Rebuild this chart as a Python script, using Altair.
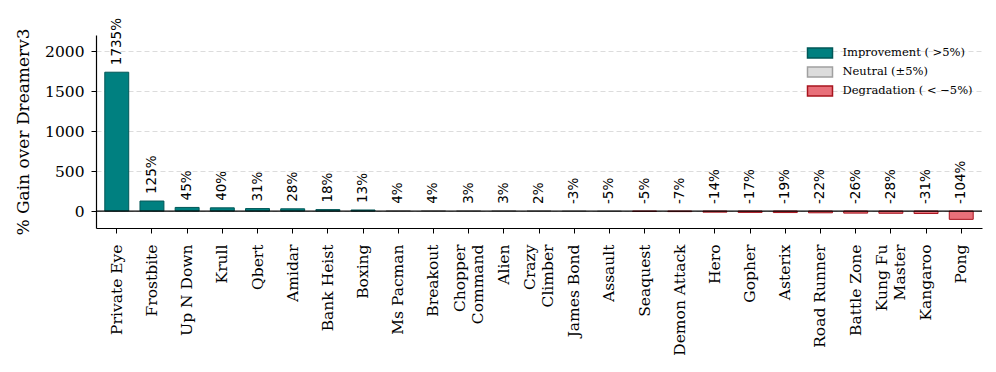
import altair as alt
import pandas as pd

games = ["Private Eye", "Frostbite", "Up N Down", "Krull", "Qbert", "Amidar",
         "Bank Heist", "Boxing", "Ms Pacman", "Breakout", "Chopper\nCommand",
         "Alien", "Crazy\nClimber", "James Bond", "Assault", "Seaquest",
         "Demon Attack", "Hero", "Gopher", "Asterix", "Road Runner",
         "Battle Zone", "Kung Fu\nMaster", "Kangaroo", "Pong"]
gains = [1735, 125, 45, 40, 31, 28, 18, 13, 4, 4, 3, 3, 2, -3, -4.8, -5.3,
         -7, -14, -17, -19, -22, -26, -28, -31, -104]

cat_labels = ["Improvement ( >5%)", "Neutral (±5%)", "Degradation ( < −5%)"]
fills = ["#008080", "#dcdcdc", "#e8707a"]
strokes = ["#005757", "#a0a0a0", "#a8141e"]


def category(v):
    if v > 5:
        return cat_labels[0]
    if v < -5:
        return cat_labels[2]
    return cat_labels[1]


df = pd.DataFrame({
    "game": games,
    "gain": gains,
    "cat": [category(v) for v in gains],
    "label": [f"{round(v):d}%" for v in gains],
    "ly": [max(v, 0) for v in gains],
})

serif = "DejaVu Serif"
sans = "DejaVu Sans"

x = alt.X("game:N", sort=games, title=None,
          scale=alt.Scale(paddingInner=0.32, paddingOuter=0.25),
          axis=alt.Axis(labelAngle=-90, labelFont=serif, labelFontSize=15.5,
                        labelColor="black", labelLineHeight=18,
                        labelExpr="split(datum.label, '\\n')",
                        labelOffset={"condition": {
                            "test": "indexof(datum.value, '\\n') >= 0",
                            "value": -9}, "value": 0},
                        tickColor="black", tickSize=5, tickWidth=1,
                        domainColor="black", domainWidth=1.2,
                        labelPadding=11, grid=False))

yscale = alt.Scale(domain=[-212, 2200], nice=False, zero=False)

bars = alt.Chart(df).mark_bar(strokeWidth=1).encode(
    x=x,
    y=alt.Y("gain:Q", scale=yscale, title="% Gain over Dreamerv3",
            axis=alt.Axis(values=[0, 500, 1000, 1500, 2000], format="d",
                          labelFont=serif,
                          labelFontSize=15.5, labelColor="black",
                          titleFont=serif, titleFontSize=17,
                          titleFontWeight="normal", titleColor="black",
                          titlePadding=12,
                          tickColor="black", tickSize=5, tickWidth=1,
                          domainColor="black", domainWidth=1.2,
                          labelPadding=7, grid=True, gridColor="#d8d8d8",
                          gridDash=[5, 3], gridWidth=0.9)),
    y2=alt.datum(0),
    fill=alt.Color("cat:N", title=None,
                   scale=alt.Scale(domain=cat_labels, range=fills),
                   legend=alt.Legend(orient="none", legendX=718, legendY=12,
                                     labelFont=serif, labelFontSize=11.5,
                                     labelColor="black",
                                     symbolType="M-2.5,-1H2.5V1H-2.5Z",
                                     symbolSize=100, symbolStrokeWidth=1.5,
                                     labelOffset=16.5, rowPadding=3, padding=0,
                                     symbolOpacity=1)),
    stroke=alt.Stroke("cat:N", title=None,
                      scale=alt.Scale(domain=cat_labels, range=strokes)),
)

zero = alt.Chart(pd.DataFrame({"z": [0]})).mark_rule(
    color="black", strokeWidth=1.2).encode(y=alt.Y("z:Q", scale=yscale))

texts = alt.Chart(df).mark_text(angle=270, align="left", baseline="middle",
                                dx=7, font=sans, fontSize=13.5,
                                color="black").encode(
    x=alt.X("game:N", sort=games),
    y=alt.Y("ly:Q", scale=yscale),
    text="label:N",
)

chart = alt.layer(bars, zero, texts).properties(
    width=886, height=193,
    autosize=alt.AutoSizeParams(type="none"),
    padding={"left": 88, "top": 27, "right": 6, "bottom": 144},
).configure_view(stroke=None)

chart.save("out.html", embed_options={"renderer": "svg", "actions": False})
